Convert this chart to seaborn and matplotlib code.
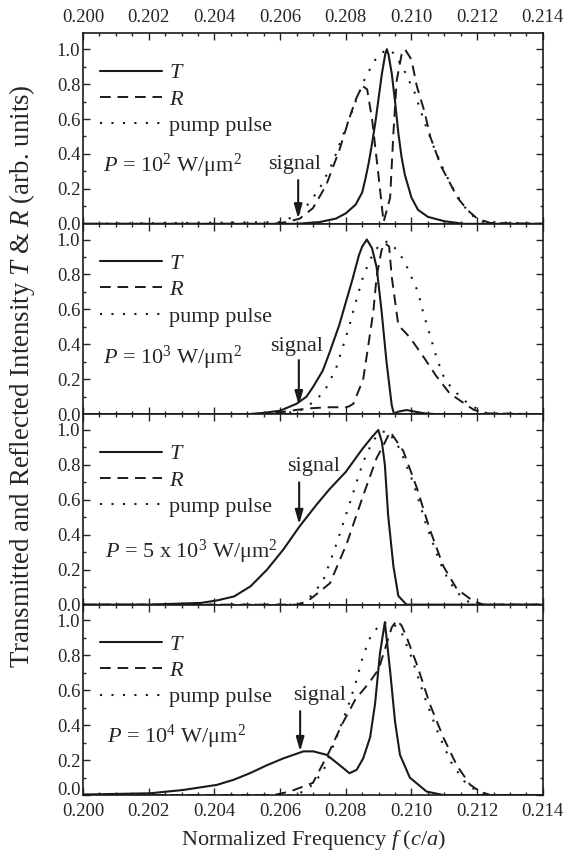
import numpy as np
import pandas as pd
import seaborn as sns
import matplotlib.pyplot as plt
from matplotlib.ticker import MultipleLocator

# values (normalized frequency f, intensity)
# panel 1 : P = 10^2 W/um^2
t1_f = [0.2000, 0.2065, 0.2072, 0.2077, 0.2080, 0.2083, 0.2085, 0.2086, 0.2087, 0.2088, 0.2089, 0.2090,
        0.2091, 0.2092, 0.20925, 0.2093, 0.2094, 0.2095, 0.2096, 0.2097, 0.2098, 0.2100, 0.2102, 0.2105,
        0.2110, 0.2116, 0.2140]
t1_v = [0.0, 0.0, 0.01, 0.03, 0.06, 0.11, 0.18, 0.26, 0.35, 0.46, 0.58, 0.72,
        0.86, 0.97, 1.0, 0.97, 0.86, 0.70, 0.52, 0.38, 0.28, 0.15, 0.08, 0.04,
        0.015, 0.0, 0.0]
r1_f = [0.2000, 0.2058, 0.2062, 0.2066, 0.2070, 0.2074, 0.2078, 0.2081, 0.2083, 0.2085, 0.20865, 0.2088,
        0.2090, 0.20915, 0.20935, 0.20945, 0.20955, 0.2097, 0.2098, 0.2100, 0.21016, 0.2104, 0.21057,
        0.2109, 0.21118, 0.2114, 0.2117, 0.2120, 0.2124, 0.2140]
r1_v = [0.0, 0.0, 0.01, 0.03, 0.09, 0.22, 0.42, 0.60, 0.71, 0.79, 0.77, 0.60,
        0.27, 0.01, 0.15, 0.52, 0.82, 0.97, 1.0, 0.94, 0.79, 0.64, 0.50,
        0.33, 0.23, 0.15, 0.08, 0.03, 0.005, 0.0]
p1_f = [0.2000, 0.2060, 0.2064, 0.2068, 0.2072, 0.2076, 0.2080, 0.2083, 0.2086, 0.2089, 0.2091, 0.2093,
        0.2095, 0.2098, 0.2101, 0.2104, 0.2107, 0.2110, 0.2113, 0.2116, 0.2119, 0.2122, 0.2140]
p1_v = [0.0, 0.01, 0.04, 0.10, 0.20, 0.35, 0.55, 0.70, 0.84, 0.94, 0.98, 1.0,
        0.97, 0.87, 0.75, 0.58, 0.43, 0.30, 0.19, 0.10, 0.04, 0.01, 0.0]

# panel 2 : P = 10^3 W/um^2
t2_f = [0.2000, 0.2050, 0.2055, 0.2060, 0.2065, 0.2068, 0.2070, 0.2073, 0.2075, 0.2078, 0.2080, 0.2082,
        0.2084, 0.2085, 0.20864, 0.2088, 0.20894, 0.2090, 0.20909, 0.20924, 0.2094, 0.20947, 0.2096,
        0.20985, 0.2101, 0.2104, 0.2108, 0.2140]
t2_v = [0.0, 0.0, 0.008, 0.02, 0.06, 0.10, 0.155, 0.25, 0.35, 0.51, 0.64, 0.77,
        0.91, 0.96, 1.0, 0.95, 0.84, 0.74, 0.59, 0.30, 0.05, 0.0, 0.015,
        0.024, 0.015, 0.005, 0.0, 0.0]
r2_f = [0.2000, 0.2055, 0.2060, 0.2065, 0.2070, 0.2075, 0.2080, 0.2081, 0.20823, 0.20853, 0.20869, 0.20884,
        0.20894, 0.20909, 0.20919, 0.20932, 0.2094, 0.2096, 0.20995, 0.21036, 0.21075, 0.21116, 0.21156,
        0.2119, 0.2123, 0.2140]
r2_v = [0.0, 0.0, 0.01, 0.025, 0.035, 0.04, 0.04, 0.045, 0.06, 0.20, 0.40, 0.59,
        0.79, 0.94, 0.98, 0.96, 0.785, 0.51, 0.44, 0.33, 0.22, 0.12, 0.068,
        0.025, 0.005, 0.0]
p2_f = [0.2000, 0.2060, 0.2066, 0.2071, 0.2074, 0.2077, 0.2081, 0.2083, 0.2085, 0.2087, 0.2089, 0.2091,
        0.2093, 0.2096, 0.2098, 0.2100, 0.2102, 0.21036, 0.21056, 0.21077, 0.21097, 0.2112, 0.2114,
        0.21168, 0.2120, 0.2123, 0.2140]
p2_v = [0.0, 0.0, 0.02, 0.08, 0.15, 0.26, 0.50, 0.64, 0.77, 0.87, 0.94, 0.98,
        0.99, 0.93, 0.87, 0.785, 0.70, 0.58, 0.455, 0.32, 0.22, 0.155, 0.117,
        0.068, 0.03, 0.005, 0.0]

# panel 3 : P = 5 x 10^3 W/um^2
t3_f = [0.2000, 0.2020, 0.2036, 0.2041, 0.2046, 0.2051, 0.2056, 0.2061, 0.2066, 0.2071, 0.2075, 0.2080,
        0.2085, 0.2088, 0.20899, 0.2091, 0.20919, 0.20929, 0.20945, 0.2096, 0.20985, 0.2140]
t3_v = [0.0, 0.0, 0.01, 0.025, 0.047, 0.105, 0.20, 0.316, 0.45, 0.57, 0.66, 0.76,
        0.89, 0.96, 1.0, 0.93, 0.80, 0.51, 0.22, 0.05, 0.0, 0.0]
r3_f = [0.2000, 0.2065, 0.20681, 0.20701, 0.20752, 0.20803, 0.20853, 0.20894, 0.20914, 0.20935, 0.20975,
        0.21016, 0.21056, 0.21097, 0.21138, 0.21188, 0.2122, 0.2140]
r3_v = [0.0, 0.0, 0.017, 0.045, 0.123, 0.35, 0.625, 0.84, 0.91, 0.99, 0.88,
        0.67, 0.43, 0.22, 0.09, 0.02, 0.0, 0.0]
p3_f = [0.2000, 0.2064, 0.20671, 0.2070, 0.20732, 0.20772, 0.20813, 0.20853, 0.20883, 0.2091, 0.2093,
        0.20965, 0.21005, 0.21046, 0.21087, 0.2111, 0.21138, 0.21178, 0.2121, 0.2140]
p3_v = [0.0, 0.0, 0.01, 0.06, 0.14, 0.35, 0.586, 0.817, 0.94, 0.99, 0.99,
        0.89, 0.70, 0.45, 0.24, 0.15, 0.07, 0.01, 0.0, 0.0]

# panel 4 : P = 10^4 W/um^2
t4_f = [0.2000, 0.20204, 0.20305, 0.20407, 0.20458, 0.20508, 0.20559, 0.2061, 0.20671, 0.20701, 0.20742,
        0.20782, 0.20811, 0.20833, 0.20853, 0.20874, 0.20889, 0.20904, 0.20919, 0.20935, 0.2095, 0.20965,
        0.20995, 0.21046, 0.21097, 0.2140]
t4_v = [0.003, 0.01, 0.029, 0.058, 0.087, 0.125, 0.17, 0.21, 0.25, 0.25, 0.23,
        0.17, 0.125, 0.144, 0.21, 0.33, 0.52, 0.81, 0.99, 0.71, 0.42, 0.23,
        0.10, 0.02, 0.0, 0.0]
r4_f = [0.2000, 0.2058, 0.2063, 0.2070, 0.2075, 0.2079, 0.2083, 0.2087, 0.2090, 0.2092, 0.2094, 0.20955,
        0.2097, 0.20985, 0.21016, 0.21056, 0.21097, 0.21138, 0.21178, 0.21208, 0.2124, 0.2140]
r4_v = [0.0, 0.0, 0.02, 0.07, 0.25, 0.41, 0.55, 0.64, 0.72, 0.84, 0.96, 1.0,
        0.97, 0.905, 0.75, 0.52, 0.33, 0.17, 0.06, 0.02, 0.0, 0.0]
p4_f = [0.2000, 0.2064, 0.2066, 0.2070, 0.20732, 0.20772, 0.20813, 0.20833, 0.20853, 0.20874, 0.20904,
        0.2094, 0.2097, 0.2100, 0.2104, 0.2108, 0.2112, 0.2116, 0.2120, 0.2123, 0.2140]
p4_v = [0.0, 0.0, 0.01, 0.06, 0.14, 0.33, 0.54, 0.66, 0.80, 0.90, 0.98,
        0.99, 0.93, 0.79, 0.56, 0.36, 0.19, 0.08, 0.02, 0.0, 0.0]

power_labels = ['$P$ = 10$^2$ W/μm$^2$', '$P$ = 10$^3$ W/μm$^2$',
                '$P$ = 5 x 10$^3$ W/μm$^2$', '$P$ = 10$^4$ W/μm$^2$']
power_pos = [(0.20061, 0.30), (0.20061, 0.29), (0.20067, 0.27), (0.20073, 0.30)]
# signal arrow: x, tail, head ; text left x, text y
signal_arrow = [(0.20655, 0.25, 0.03), (0.20657, 0.31, 0.05), (0.20658, 0.70, 0.46), (0.20661, 0.48, 0.25)]
signal_text = [(0.20563, 0.34), (0.20570, 0.39), (0.20621, 0.79), (0.20639, 0.57)]

panels = [
    (t1_f, t1_v, r1_f, r1_v, p1_f, p1_v),
    (t2_f, t2_v, r2_f, r2_v, p2_f, p2_v),
    (t3_f, t3_v, r3_f, r3_v, p3_f, p3_v),
    (t4_f, t4_v, r4_f, r4_v, p4_f, p4_v),
]

sns.set_theme(style='ticks')
plt.rcParams['font.family'] = ['Liberation Serif', 'DejaVu Serif']
plt.rcParams['mathtext.fontset'] = 'custom'
plt.rcParams['mathtext.rm'] = 'Liberation Serif'
plt.rcParams['mathtext.it'] = 'Liberation Serif:italic'

fig, axes = plt.subplots(4, 1, figsize=(5.69, 8.57), dpi=100, sharex=True)
fig.subplots_adjust(left=0.146, right=0.954, top=0.961, bottom=0.0723, hspace=0)

for i, ax in enumerate(axes):
    tf, tv, rf, rv, pf, pv = panels[i]
    sns.lineplot(x=tf, y=tv, ax=ax, color='k', lw=1.5, estimator=None, sort=False, label='$T$')
    sns.lineplot(x=rf, y=rv, ax=ax, color='k', lw=1.4, estimator=None, sort=False,
                 linestyle=(0, (5.5, 3.5)), label='$R$')
    sns.lineplot(x=pf, y=pv, ax=ax, color='k', lw=1.5, estimator=None, sort=False,
                 linestyle=(0, (1.0, 4.5)), label='pump pulse')
    ax.set_xlim(0.200, 0.214)
    ax.set_ylim(0, 1.09)
    ax.xaxis.set_major_locator(MultipleLocator(0.002))
    ax.xaxis.set_minor_locator(MultipleLocator(0.0005))
    ax.yaxis.set_major_locator(MultipleLocator(0.2))
    ax.yaxis.set_minor_locator(MultipleLocator(0.1))
    ax.tick_params(which='both', direction='in', top=True, right=True, labelsize=13.5, width=1.0)
    ax.tick_params(which='major', length=5)
    ax.tick_params(which='minor', length=2.5)
    ax.tick_params(axis='y', pad=2)
    ax.tick_params(labelbottom=(i == 3), labeltop=(i == 0))
    ax.tick_params(axis='x', pad=5.5)
    ax.yaxis.set_major_formatter(plt.FormatStrFormatter('%.1f'))
    ax.xaxis.set_major_formatter(plt.FormatStrFormatter('%.3f'))
    ax.set_xlabel('')
    ax.set_ylabel('')
    for s in ax.spines.values():
        s.set_linewidth(1.2)
        s.set_color('k')

    ax.legend(loc='upper left', bbox_to_anchor=(0.022, 0.88), frameon=False, fontsize=16,
              handlelength=2.8, handletextpad=0.3, labelspacing=0.26, borderaxespad=0, borderpad=0.3)

    px, py = power_pos[i]
    ax.text(px, py, power_labels[i], fontsize=16, va='baseline', ha='left')

    sx, tail, head = signal_arrow[i]
    ax.annotate('', xy=(sx, head), xytext=(sx, tail),
                arrowprops=dict(arrowstyle='-|>,head_length=0.7,head_width=0.2', color='k', lw=1.5,
                                shrinkA=0, shrinkB=0))
    tx, ty = signal_text[i]
    ax.text(tx, ty, 'signal', fontsize=16, va='center', ha='left')

fig.text(0.0387, 0.561, 'Transmitted and Reflected Intensity $T$ & $R$ (arb. units)',
         rotation=90, ha='center', va='center', fontsize=19.4)
fig.text(0.55, 0.02, 'Normalized Frequency $f$ ($c$/$a$)', ha='center', va='center', fontsize=16)

# the lowest "0.0" sits a little above its tick, as in the reference
fig.canvas.draw()
for tick in axes[3].yaxis.get_major_ticks():
    if abs(tick.get_loc()) < 1e-9:
        tick.label1.set_verticalalignment('baseline')

fig.savefig('out.png', dpi=100)
